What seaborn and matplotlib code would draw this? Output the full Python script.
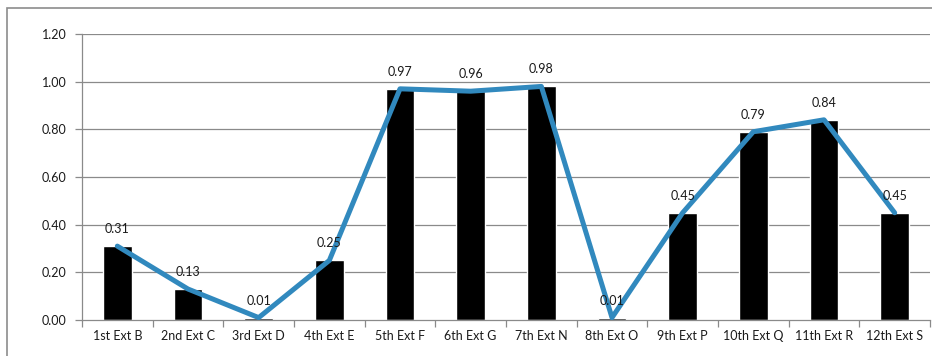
import matplotlib
matplotlib.use("Agg")
import matplotlib.pyplot as plt
from matplotlib.patches import Rectangle
import seaborn as sns
import pandas as pd

categories = ["1st Ext B", "2nd Ext C", "3rd Ext D", "4th Ext E", "5th Ext F", "6th Ext G",
              "7th Ext N", "8th Ext O", "9th Ext P", "10th Ext Q", "11th Ext R", "12th Ext S"]
values = [0.31, 0.13, 0.01, 0.25, 0.97, 0.96, 0.98, 0.01, 0.45, 0.79, 0.84, 0.45]
value_labels = ["0.31", "0.13", "0.01", "0.25", "0.97", "0.96", "0.98", "0.01", "0.45", "0.79", "0.84", "0.45"]
y_ticks = [0.0, 0.2, 0.4, 0.6, 0.8, 1.0, 1.2]

df = pd.DataFrame({"category": categories, "value": values})

sns.set_theme(style="white")
plt.rcParams["font.family"] = ["Lato", "DejaVu Sans"]

fig = plt.figure(figsize=(9.32, 3.56), dpi=100)
ax = fig.add_axes([82 / 932, 1 - 320 / 356, (930 - 82) / 932, (320 - 34) / 356])

# outer chart frame
fig.patches.append(Rectangle((7 / 932, -0.05), 1.0, 1 - 8 / 356 + 0.05,
                             transform=fig.transFigure, fill=False,
                             edgecolor="#8c8c8c", linewidth=1.2, zorder=0))

grid_color = "#8a8a8a"
for t in y_ticks[1:]:
    ax.axhline(t, color=grid_color, linewidth=0.9, zorder=0)

sns.barplot(data=df, x="category", y="value", color="black", width=0.41,
            saturation=1, ax=ax, zorder=2)
sns.pointplot(data=df, x="category", y="value", color="#3189BE", markers="",
              linestyles="-", linewidth=3.6, ax=ax, zorder=3)

for i, (v, lab) in enumerate(zip(values, value_labels)):
    ax.annotate(lab, (i, v), xytext=(0, 8), textcoords="offset points",
                ha="center", va="bottom", fontsize=9, color="#1a1a1a", zorder=4)

ax.set_xlim(-0.5, len(categories) - 0.5)
ax.set_ylim(0, 1.2)
ax.set_yticks(y_ticks)
ax.set_yticklabels([f"{t:.2f}" for t in y_ticks])
ax.set_xlabel("")
ax.set_ylabel("")

for side in ["top", "right"]:
    ax.spines[side].set_visible(False)
for side in ["left", "bottom"]:
    ax.spines[side].set_color(grid_color)
    ax.spines[side].set_linewidth(0.9)

# category separators on the x axis
ax.set_xticks([i - 0.5 for i in range(len(categories) + 1)], minor=True)
ax.tick_params(axis="x", which="minor", length=5, color=grid_color, width=0.9, bottom=True)
ax.tick_params(axis="x", which="major", length=0, labelsize=9, colors="#1a1a1a", pad=7)
ax.tick_params(axis="y", which="major", length=5, color=grid_color, width=0.9,
               labelsize=9, colors="#1a1a1a", left=True, pad=6)

fig.savefig("out.png", dpi=100, facecolor="white")
